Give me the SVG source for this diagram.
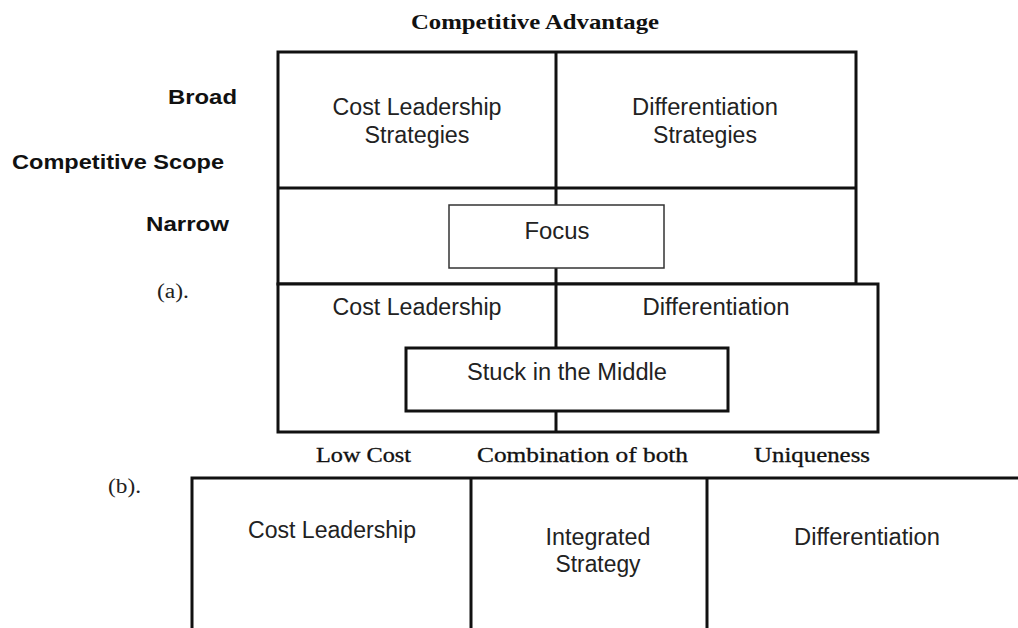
<svg xmlns="http://www.w3.org/2000/svg" width="1018" height="628" viewBox="0 0 1018 628">
<style>
.bg{fill:#fff}
.box{fill:#fff;stroke:#111;stroke-width:3}
.thin{fill:#fff;stroke:#333;stroke-width:1.5}
.ln{stroke:#111;stroke-width:3;fill:none}
.cell{font-family:"Liberation Sans",Arial,sans-serif;font-size:23px;fill:#222;text-anchor:middle}
.lab{font-family:"Liberation Sans",Arial,sans-serif;font-size:21px;font-weight:bold;fill:#111}
.ser{font-family:"Liberation Serif","Times New Roman",serif;font-size:20px;fill:#111;stroke:#111;stroke-width:0.3}
.tag{font-family:"Liberation Serif","Times New Roman",serif;font-size:20px;fill:#222}
.serb{font-family:"Liberation Serif","Times New Roman",serif;font-size:21px;font-weight:bold;fill:#111}
</style>
<rect class="bg" x="0" y="0" width="1018" height="628"/>
<text class="serb" x="411" y="29" textLength="248" lengthAdjust="spacingAndGlyphs">Competitive Advantage</text>
<g id="labels">
<text class="lab" x="168" y="104" textLength="69" lengthAdjust="spacingAndGlyphs">Broad</text>
<text class="lab" x="12" y="169" textLength="212" lengthAdjust="spacingAndGlyphs">Competitive Scope</text>
<text class="lab" x="146" y="231" textLength="83" lengthAdjust="spacingAndGlyphs">Narrow</text>
<text class="tag" x="157" y="298" textLength="32" lengthAdjust="spacingAndGlyphs">(a).</text>
<text class="tag" x="108" y="493" textLength="33" lengthAdjust="spacingAndGlyphs">(b).</text>
<text class="ser" x="316" y="462" textLength="95" lengthAdjust="spacingAndGlyphs">Low Cost</text>
<text class="ser" x="477" y="462" textLength="211" lengthAdjust="spacingAndGlyphs">Combination of both</text>
<text class="ser" x="754" y="462" textLength="116" lengthAdjust="spacingAndGlyphs">Uniqueness</text>
</g>
<g id="table-a-top">
<rect class="box" x="278" y="52" width="578" height="232"/>
<line class="ln" x1="278" y1="188" x2="856" y2="188"/>
<line class="ln" x1="556" y1="52" x2="556" y2="284"/>
<text class="cell" x="417" y="115" textLength="169" lengthAdjust="spacingAndGlyphs">Cost Leadership</text>
<text class="cell" x="417" y="143" textLength="105" lengthAdjust="spacingAndGlyphs">Strategies</text>
<text class="cell" x="705" y="115" textLength="146" lengthAdjust="spacingAndGlyphs">Differentiation</text>
<text class="cell" x="705" y="143" textLength="104" lengthAdjust="spacingAndGlyphs">Strategies</text>
</g>
<g id="focus">
<rect class="thin" x="449" y="205" width="215" height="63"/>
<text class="cell" x="557" y="239" textLength="65" lengthAdjust="spacingAndGlyphs">Focus</text>
</g>
<g id="table-a-bottom">
<rect class="box" x="278" y="284" width="600" height="148"/>
<line class="ln" x1="556" y1="284" x2="556" y2="432"/>
<text class="cell" x="417" y="315" textLength="169" lengthAdjust="spacingAndGlyphs">Cost Leadership</text>
<text class="cell" x="716" y="315" textLength="147" lengthAdjust="spacingAndGlyphs">Differentiation</text>
</g>
<g id="stuck">
<rect class="box" x="406" y="348" width="322" height="63"/>
<text class="cell" x="567" y="380" textLength="200" lengthAdjust="spacingAndGlyphs">Stuck in the Middle</text>
</g>
<g id="table-b">
<rect class="box" x="192" y="478" width="840" height="160"/>
<line class="ln" x1="471" y1="478" x2="471" y2="628"/>
<line class="ln" x1="707" y1="478" x2="707" y2="628"/>
<text class="cell" x="332" y="538" textLength="168" lengthAdjust="spacingAndGlyphs">Cost Leadership</text>
<text class="cell" x="598" y="545" textLength="105" lengthAdjust="spacingAndGlyphs">Integrated</text>
<text class="cell" x="598" y="572" textLength="85" lengthAdjust="spacingAndGlyphs">Strategy</text>
<text class="cell" x="867" y="545" textLength="146" lengthAdjust="spacingAndGlyphs">Differentiation</text>
</g>
</svg>
